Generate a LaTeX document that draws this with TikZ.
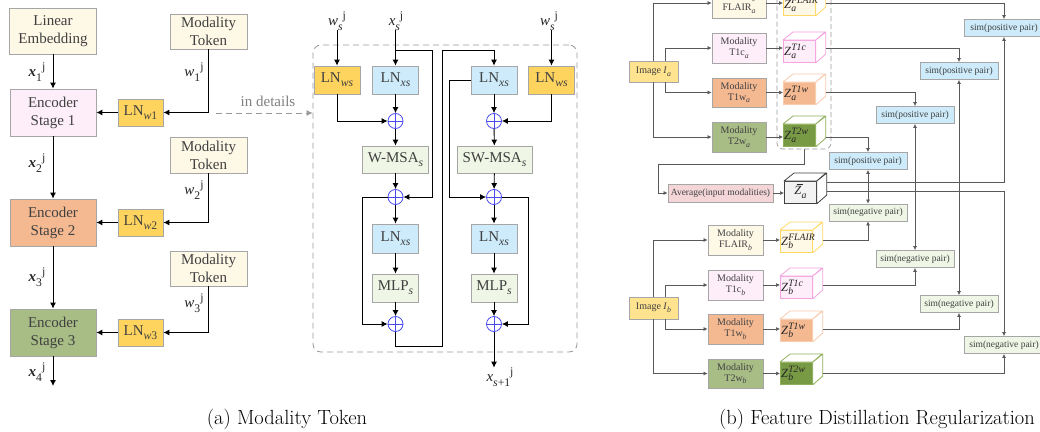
\documentclass[tikz,border=0pt]{standalone}
\usepackage{fontspec}
\newfontfamily\tms{Liberation Serif}
\usetikzlibrary{arrows.meta,calc}
\definecolor{cream}{HTML}{FEF8E6}
\definecolor{pinkf}{HTML}{FDEEF9}
\definecolor{salmon}{HTML}{F5B992}
\definecolor{olive}{HTML}{A8BD86}
\definecolor{lnyel}{HTML}{FFD45E}
\definecolor{lblue}{HTML}{CDEBFA}
\definecolor{lgreen}{HTML}{F0F6E6}
\definecolor{imgyel}{HTML}{FFE38F}
\definecolor{avgpink}{HTML}{F4D6D8}
\definecolor{bord}{HTML}{A6A6A6}
\definecolor{txt}{HTML}{404040}
\definecolor{dkgreen}{HTML}{789A45}
\definecolor{lnc}{HTML}{595959}
\definecolor{opb}{HTML}{4B4BF2}
\definecolor{dgray}{HTML}{9A9A9A}
\definecolor{cubeyel}{HTML}{FFD966}
\definecolor{cubepink}{HTML}{F5A3E0}
\definecolor{cubeor}{HTML}{F8CBAD}
\definecolor{cubegr}{HTML}{8FAF5A}
\definecolor{zgray}{HTML}{F2F2F2}
\definecolor{zbord}{HTML}{404040}
\tikzset{
 box/.style={draw=bord, line width=0.8pt, inner sep=0pt, align=center, text=txt},
 bigt/.style={font=\tms\fontsize{15}{18}\selectfont},
 smt/.style={font=\tms\fontsize{10}{11}\selectfont},
 simt/.style={font=\tms\fontsize{9.5}{11}\selectfont},
 zlab/.style={font=\tms\fontsize{12.5}{13}\selectfont, text=black!85, inner sep=1pt},
 lbl/.style={bigt, text=black!85, inner sep=0pt},
 arr/.style={-{Latex[length=6pt,width=6pt]}, line width=0.9pt, draw=black},
 sarr/.style={-{Latex[length=4pt,width=4pt]}, line width=0.7pt, draw=lnc},
 sarrb/.style={{Latex[length=4pt,width=4pt]}-{Latex[length=4pt,width=4pt]}, line width=0.7pt, draw=lnc},
 opl/.style={circle, draw=opb, fill=white, line width=0.8pt, minimum size=15pt, inner sep=0pt,
   path picture={\draw[opb, line width=0.8pt] (path picture bounding box.north) -- (path picture bounding box.south) (path picture bounding box.west) -- (path picture bounding box.east);}},
}
\newcommand{\dsb}[1]{\raisebox{-0.28em}{\scalebox{0.78}{#1}}}
\newcommand{\dsp}[1]{\raisebox{0.42em}{\scalebox{0.78}{#1}}}
\newcommand{\zss}[2]{\rlap{\dsb{\textit{#1}}}\dsp{\textit{#2}}}
\newcommand{\mycube}[6]{%
 \node[draw=#5, fill=#4, line width=0.8pt, minimum width=32pt, minimum height=22pt, inner sep=0pt, anchor=north west] (#1) at (#2,#3) {};
 \draw[draw=#5, fill=white, line width=0.8pt, line join=round] (#1.north west) -- ++(10,-8) -- ++(32,0) -- (#1.north east) -- cycle;
 \draw[draw=#5, fill=white, line width=0.8pt, line join=round] (#1.north east) -- ++(10,-8) -- ++(0,22) -- (#1.south east) -- cycle;
 \coordinate (#1r) at ($(#1.east)+(10,0)$);
 \if\relax\detokenize{#6}\relax\else\node[zlab, anchor=west] (#1l) at (#1.west) {#6};\fi
}
\begin{document}
\begin{tikzpicture}[x=1pt,y=-1pt]
\useasboundingbox (0,0) rectangle (1040,431);
\fill[white] (0,0) rectangle (1040,431);
% ---------------- (a) left
\node[box,bigt,fill=cream,minimum width=87pt,minimum height=46pt] (le) at (53,31) {Linear\\Embedding};
\node[box,bigt,fill=cream,minimum width=77pt,minimum height=35pt] (mt1) at (208.5,31.5) {Modality\\Token};
\node[box,bigt,fill=pinkf,minimum width=86pt,minimum height=47pt] (es1) at (53,112.5) {Encoder\\Stage 1};
\node[box,bigt,fill=lnyel,minimum width=45pt,minimum height=27pt] (ln1) at (140.5,112.5) {LN\dsb{\textit{w}1}};
\node[box,bigt,fill=cream,minimum width=77pt,minimum height=36pt] (mt2) at (208.5,155) {Modality\\Token};
\node[box,bigt,fill=salmon,minimum width=86pt,minimum height=47pt] (es2) at (53,222.5) {Encoder\\Stage 2};
\node[box,bigt,fill=lnyel,minimum width=45pt,minimum height=27pt] (ln2) at (140.5,222.5) {LN\dsb{\textit{w}2}};
\node[box,bigt,fill=cream,minimum width=77pt,minimum height=35pt] (mt3) at (208.5,268.5) {Modality\\Token};
\node[box,bigt,fill=olive,minimum width=86pt,minimum height=47pt] (es3) at (53,332.5) {Encoder\\Stage 3};
\node[box,bigt,fill=lnyel,minimum width=45pt,minimum height=27pt] (ln3) at (140.5,332.5) {LN\dsb{\textit{w}3}};
\node[lbl] (lx1) at (37,72) {\textbf{\textit{x}}\dsb{1}\dsp{j}};
\node[lbl] (lx2) at (37,163) {\textbf{\textit{x}}\dsb{2}\dsp{j}};
\node[lbl] (lx3) at (37,277) {\textbf{\textit{x}}\dsb{3}\dsp{j}};
\node[lbl] (lx4) at (37,372) {\textbf{\textit{x}}\dsb{4}\dsp{j}};
\node[lbl] (lw1) at (194,72) {\textit{w}\dsb{1}\dsp{j}};
\node[lbl] (lw2) at (194,190) {\textit{w}\dsb{2}\dsp{j}};
\node[lbl] (lw3) at (194,303) {\textit{w}\dsb{3}\dsp{j}};
\draw[arr] (le) -- (es1);
\draw[arr] (es1) -- (es2);
\draw[arr] (es2) -- (es3);
\coordinate (x4e) at (53,386);
\draw[arr] (es3.south) -- (x4e);
\draw[arr] (mt1.south) |- (ln1.east);
\draw[arr] (mt2.south) |- (ln2.east);
\draw[arr] (mt3.south) |- (ln3.east);
\draw[arr] (ln1) -- (es1);
\draw[arr] (ln2) -- (es2);
\draw[arr] (ln3) -- (es3);
% ---------------- (a) details
\node[draw=dgray, dashed, dash pattern=on 6pt off 4pt, rounded corners=8pt, line width=0.8pt, minimum width=264pt, minimum height=307pt] (det) at (445,198.5) {};
\coordinate (ds) at (216,113);
\draw[draw=dgray, line width=0.8pt, dash pattern=on 6pt off 4pt, -{Latex[length=6pt,width=6pt]}] (ds) -- (det.west |- ds);
\node[bigt, text=gray] (indet) at (268,101) {in details};
\node[box,bigt,fill=lnyel,minimum width=46pt,minimum height=28pt] (lnwsL) at (337,80) {LN\dsb{\textit{ws}}};
\node[box,bigt,fill=lblue,minimum width=46pt,minimum height=28pt] (lnxsL) at (395.5,80) {LN\dsb{\textit{xs}}};
\node[opl] (opL1) at (395.5,121) {};
\node[box,bigt,fill=lgreen,minimum width=66pt,minimum height=27pt] (wmsa) at (395.5,159.5) {W-MSA\dsb{\textit{s}}};
\node[opl] (opL2) at (395.5,197) {};
\node[box,bigt,fill=lblue,minimum width=46pt,minimum height=29pt] (lnxsL2) at (395.5,238.5) {LN\dsb{\textit{xs}}};
\node[box,bigt,fill=lgreen,minimum width=46pt,minimum height=28pt] (mlpL) at (395.5,288) {MLP\dsb{\textit{s}}};
\node[opl] (opL3) at (395.5,324) {};
\node[box,bigt,fill=lblue,minimum width=46pt,minimum height=28pt] (lnxsR) at (494,80) {LN\dsb{\textit{xs}}};
\node[box,bigt,fill=lnyel,minimum width=46pt,minimum height=28pt] (lnwsR) at (551.5,80) {LN\dsb{\textit{ws}}};
\node[opl] (opR1) at (494,121) {};
\node[box,bigt,fill=lgreen,minimum width=75pt,minimum height=27pt] (swmsa) at (494.5,159.5) {SW-MSA\dsb{\textit{s}}};
\node[opl] (opR2) at (494,197) {};
\node[box,bigt,fill=lblue,minimum width=46pt,minimum height=29pt] (lnxsR2) at (494,238.5) {LN\dsb{\textit{xs}}};
\node[box,bigt,fill=lgreen,minimum width=46pt,minimum height=28pt] (mlpR) at (494,288) {MLP\dsb{\textit{s}}};
\node[opl] (opR3) at (494,324) {};
\node[lbl] (lwsL) at (337,21) {\textit{w}\dsb{\textit{s}}\dsp{j}};
\node[lbl] (lxsL) at (396,21) {\textit{x}\dsb{\textit{s}}\dsp{j}};
\node[lbl] (lwsR) at (549,21) {\textit{w}\dsb{\textit{s}}\dsp{j}};
\node[lbl] (lxs1) at (500,377) {\textit{x}\dsb{\textit{s}+1}\dsp{j}};
\draw[arr] (lnwsL.north |- lwsL.south) -- (lnwsL.north);
\draw[arr] (lnxsL.north |- lxsL.south) -- (lnxsL.north);
\draw[arr] (lnwsR.north |- lwsR.south) -- (lnwsR.north);
\coordinate (b1) at (395.5,50);
\draw[arr] (b1) -| (432,197) -- (opL2.east);
\draw[arr] (lnwsL.south) |- (opL1.west);
\draw[arr] (lnxsL) -- (opL1);
\draw[arr] (opL1) -- (wmsa);
\draw[arr] (wmsa) -- (opL2);
\draw[arr] (opL2) -- (lnxsL2);
\draw[arr] (lnxsL2) -- (mlpL);
\draw[arr] (mlpL) -- (opL3);
\draw[arr] (opL2.west) -- (362,197) |- (opL3.west);
\draw[arr] (opL3.south) -- (395.5,346) -| (442,50) -| (lnxsR.north);
\draw[arr] (lnxsR.west) -- (449,80) |- (opR2.west);
\draw[arr] (lnwsR.south) |- (opR1.east);
\draw[arr] (lnxsR) -- (opR1);
\draw[arr] (opR1) -- (swmsa);
\draw[arr] (swmsa) -- (opR2);
\draw[arr] (opR2) -- (lnxsR2);
\draw[arr] (lnxsR2) -- (mlpR);
\draw[arr] (mlpR) -- (opR3);
\draw[arr] (opR2.east) -- (528,197) |- (opR3.east);
\draw[arr] (opR3.south) -- (opR3.south |- lxs1.north);
% ---------------- (b)
\node[box,smt,fill=imgyel,minimum width=49pt,minimum height=21pt] (imgA) at (653.5,71.5) {Image \textit{I}\dsb{\textit{a}}};
\node[box,smt,fill=cream,minimum width=54pt,minimum height=30pt] (flairA) at (739,3) {Modality\\FLAIR\dsb{\textit{a}}};
\node[box,smt,fill=pinkf,minimum width=54pt,minimum height=30pt] (t1cA) at (739,48) {Modality\\T1c\dsb{\textit{a}}};
\node[box,smt,fill=salmon,minimum width=54pt,minimum height=29pt] (t1wA) at (739,92.5) {Modality\\T1w\dsb{\textit{a}}};
\node[box,smt,fill=olive,minimum width=54pt,minimum height=30pt] (t2wA) at (739,137) {Modality\\T2w\dsb{\textit{a}}};
\draw[sarr] (imgA.north) |- (flairA.west);
\draw[sarr] ([xshift=12pt]imgA.north) |- (t1cA.west);
\draw[sarr] ([xshift=12pt]imgA.south) |- (t1wA.west);
\draw[sarr] (imgA.south) |- (t2wA.west);
\node[draw=dgray, dashed, dash pattern=on 5pt off 3pt, rounded corners=6pt, line width=0.7pt, minimum width=54pt, minimum height=170pt] (zbox) at (804,64) {};
\mycube{za1}{783}{-7}{cream}{cubeyel}{\textit{Z}\zss{a}{FLAIR}}
\mycube{za2}{783}{40}{pinkf}{cubepink}{\textit{Z}\zss{a}{T1c}}
\mycube{za3}{783}{82}{salmon}{cubeor}{\textit{Z}\zss{a}{T1w}}
\mycube{za4}{783}{124}{dkgreen}{cubegr}{\textit{Z}\zss{a}{T2w}}
\draw[sarr] (flairA.east) -- (za1.west |- flairA.east);
\draw[sarr] (t1cA.east) -- (za2.west |- t1cA.east);
\draw[sarr] (t1wA.east) -- (za3.west |- t1wA.east);
\draw[sarr] (t2wA.east) -- (za4.west |- t2wA.east);
\node[box,simt,fill=lblue,minimum width=80pt,minimum height=17pt] (sp1) at (1004,28) {sim(positive pair)};
\node[box,simt,fill=lblue,minimum width=78pt,minimum height=17pt] (sp2) at (959,71) {sim(positive pair)};
\node[box,simt,fill=lblue,minimum width=78pt,minimum height=17pt] (sp3) at (915,115) {sim(positive pair)};
\node[box,simt,fill=lblue,minimum width=78pt,minimum height=17pt] (sp4) at (868,161) {sim(positive pair)};
\node[box,simt,fill=lgreen,minimum width=78pt,minimum height=17pt] (sn1) at (868,212.5) {sim(negative pair)};
\node[box,simt,fill=lgreen,minimum width=78pt,minimum height=17pt] (sn2) at (915,259) {sim(negative pair)};
\node[box,simt,fill=lgreen,minimum width=78pt,minimum height=17pt] (sn3) at (959,304) {sim(negative pair)};
\node[box,simt,fill=lgreen,minimum width=80pt,minimum height=17pt] (sn4) at (1004,345) {sim(negative pair)};
\draw[sarr] (za1r |- flairA.east) -| (sp1.north);
\draw[sarr] (za2r |- t1cA.east) -| (sp2.north);
\draw[sarr] (za3r |- t1wA.east) -| (sp3.north);
\draw[sarr] (za4r |- t2wA.east) -| (sp4.north);
\node[box,simt,fill=avgpink,minimum width=105pt,minimum height=18pt] (avg) at (720.5,193) {Average(input modalities)};
\draw[sarr] (zbox.south) -- ++(0,15) -| ([xshift=-9pt]avg.west) -- (avg.west);
\mycube{zbar}{784}{181}{zgray}{zbord}{}
\node[zlab] (zbarl) at (zbar) {\textit{Z}\dsb{\textit{a}}};
\draw[black!85, line width=0.6pt] ($(zbarl.north west)+(3.5,-0.8)$) -- ++(6.5,0);
\draw[sarr] (avg.east) -- (zbar.west |- avg.east);
\draw[sarr] ([yshift=10.5pt]zbarr) -| (sp1.south);
\draw[sarr] ([yshift=1.5pt]zbarr) -| (sn4.north);
\draw[sarrb] (sp4.south) -- (sn1.north);
\draw[sarrb] (sp3.south) -- (sn2.north);
\draw[sarrb] (sp2.south) -- (sn3.north);
\node[box,smt,fill=imgyel,minimum width=49pt,minimum height=22pt] (imgB) at (653.5,308) {Image \textit{I}\dsb{\textit{b}}};
\node[box,smt,fill=cream,minimum width=55pt,minimum height=30pt] (flairB) at (735.5,240) {Modality\\FLAIR\dsb{\textit{b}}};
\node[box,smt,fill=pinkf,minimum width=55pt,minimum height=30pt] (t1cB) at (735.5,285) {Modality\\T1c\dsb{\textit{b}}};
\node[box,smt,fill=salmon,minimum width=55pt,minimum height=30pt] (t1wB) at (735.5,329) {Modality\\T1w\dsb{\textit{b}}};
\node[box,smt,fill=olive,minimum width=55pt,minimum height=29pt] (t2wB) at (735.5,373.5) {Modality\\T2w\dsb{\textit{b}}};
\draw[sarr] (imgB.north) |- (flairB.west);
\draw[sarr] ([xshift=12pt]imgB.north) |- (t1cB.west);
\draw[sarr] ([xshift=12pt]imgB.south) |- (t1wB.west);
\draw[sarr] (imgB.south) |- (t2wB.west);
\mycube{zb1}{780}{230}{cream}{cubeyel}{\textit{Z}\zss{b}{FLAIR}}
\mycube{zb2}{780}{276}{pinkf}{cubepink}{\textit{Z}\zss{b}{T1c}}
\mycube{zb3}{780}{319}{salmon}{cubeor}{\textit{Z}\zss{b}{T1w}}
\mycube{zb4}{780}{362}{dkgreen}{cubegr}{\textit{Z}\zss{b}{T2w}}
\draw[sarr] (flairB.east) -- (zb1.west |- flairB.east);
\draw[sarr] (t1cB.east) -- (zb2.west |- t1cB.east);
\draw[sarr] (t1wB.east) -- (zb3.west |- t1wB.east);
\draw[sarr] (t2wB.east) -- (zb4.west |- t2wB.east);
\draw[sarr] (zb1r |- flairB.east) -| (sn1.south);
\draw[sarr] (zb2r |- t1cB.east) -| (sn2.south);
\draw[sarr] (zb3r |- t1wB.east) -| (sn3.south);
\draw[sarr] (zb4r |- t2wB.east) -| (sn4.south);
% ---------------- captions
\node[font=\fontsize{20.5}{24}\selectfont, anchor=base, inner sep=0pt] (capa) at (287,424) {(a) Modality Token};
\node[font=\fontsize{20.5}{24}\selectfont, anchor=base east, inner sep=0pt] (capb) at (1035,424) {(b) Feature Distillation Regularization};
\end{tikzpicture}
\end{document}
